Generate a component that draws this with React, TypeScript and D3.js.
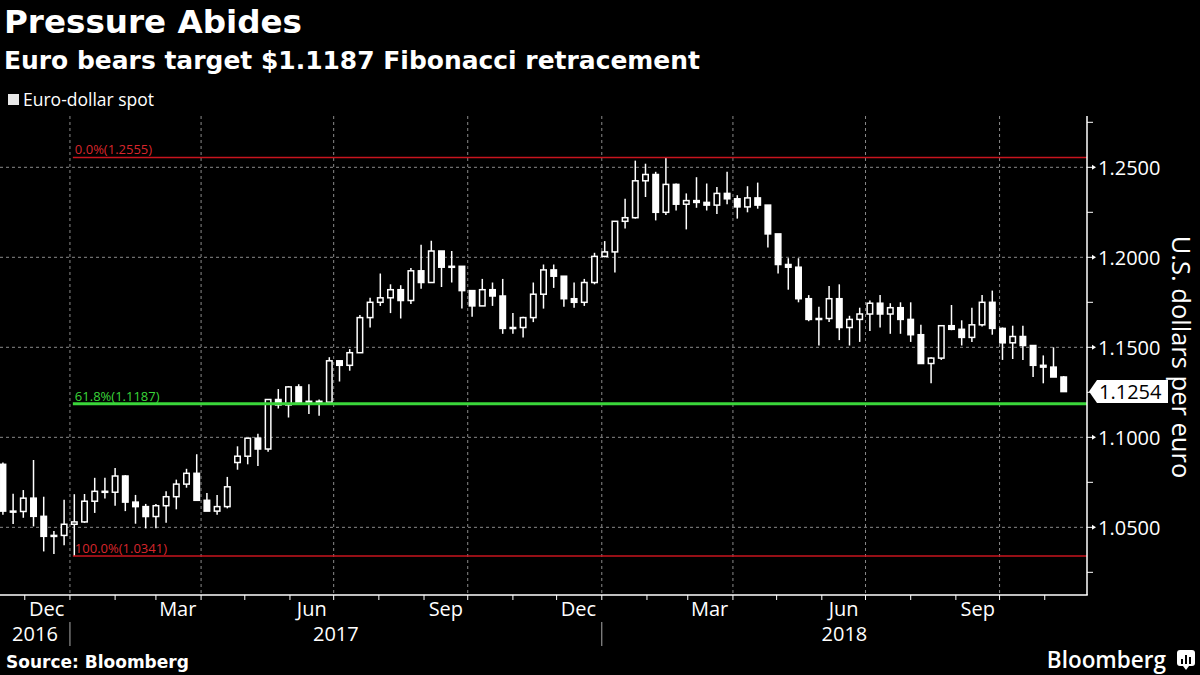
import React, { useEffect } from "react";
import * as d3 from "d3";

// ---- data (weekly OHLC of EUR/USD) ----
const FIRST_WEEK = "2016-11-14";
const opens = [
  1.0850, 1.0590, 1.0588, 1.0662, 1.0561, 1.0450, 1.0455, 1.0517, 1.0530, 1.0645,
  1.0700, 1.0695, 1.0785, 1.0640, 1.0615, 1.0560, 1.0620, 1.0670, 1.0740, 1.0800,
  1.0650, 1.0590, 1.0615, 1.0860, 1.0895, 1.0995, 1.0935, 1.1210, 1.1180, 1.1280,
  1.1195, 1.1200, 1.1195, 1.1425, 1.1400, 1.1470, 1.1665, 1.1750, 1.1775, 1.1820,
  1.1760, 1.1925, 1.1860, 1.2035, 1.1945, 1.1950, 1.1815, 1.1730, 1.1820, 1.1785,
  1.1605, 1.1610, 1.1665, 1.1795, 1.1930, 1.1895, 1.1770, 1.1750, 1.1860, 1.2005,
  1.2030, 1.2200, 1.2220, 1.2425, 1.2460, 1.2250, 1.2405, 1.2295, 1.2315, 1.2305,
  1.2290, 1.2355, 1.2325, 1.2280, 1.2330, 1.2290, 1.2130, 1.1960, 1.1945, 1.1770,
  1.1655, 1.1660, 1.1770, 1.1610, 1.1655, 1.1685, 1.1745, 1.1685, 1.1720, 1.1655,
  1.1570, 1.1410, 1.1440, 1.1620, 1.1600, 1.1555, 1.1625, 1.1750, 1.1605, 1.1525,
  1.1560, 1.1510, 1.1400, 1.1390, 1.1335,
];
const highs = [
  1.0860, 1.0687, 1.0707, 1.0874, 1.0670, 1.0480, 1.0653, 1.0684, 1.0685, 1.0775,
  1.0775, 1.0830, 1.0790, 1.0680, 1.0630, 1.0630, 1.0700, 1.0765, 1.0825, 1.0906,
  1.0690, 1.0680, 1.0780, 1.0950, 1.0995, 1.1020, 1.1210, 1.1268, 1.1285, 1.1295,
  1.1295, 1.1210, 1.1445, 1.1425, 1.1490, 1.1680, 1.1775, 1.1910, 1.1850, 1.1845,
  1.1940, 1.2070, 1.2092, 1.2035, 1.2035, 1.1950, 1.1815, 1.1880, 1.1860, 1.1880,
  1.1690, 1.1670, 1.1860, 1.1960, 1.1960, 1.1895, 1.1860, 1.1880, 1.2025, 1.2090,
  1.2200, 1.2325, 1.2537, 1.2520, 1.2475, 1.2555, 1.2410, 1.2355, 1.2445, 1.2410,
  1.2390, 1.2475, 1.2345, 1.2395, 1.2415, 1.2290, 1.2130, 1.1995, 1.1995, 1.1790,
  1.1725, 1.1840, 1.1850, 1.1675, 1.1720, 1.1760, 1.1790, 1.1745, 1.1750, 1.1750,
  1.1625, 1.1445, 1.1620, 1.1735, 1.1650, 1.1720, 1.1790, 1.1815, 1.1610, 1.1620,
  1.1620, 1.1510, 1.1455, 1.1500, 1.1340,
];
const lows = [
  1.0570, 1.0518, 1.0553, 1.0505, 1.0366, 1.0352, 1.0400, 1.0341, 1.0525, 1.0580,
  1.0660, 1.0620, 1.0590, 1.0520, 1.0494, 1.0495, 1.0525, 1.0600, 1.0720, 1.0650,
  1.0590, 1.0570, 1.0605, 1.0820, 1.0850, 1.0840, 1.0920, 1.1160, 1.1110, 1.1195,
  1.1130, 1.1120, 1.1180, 1.1310, 1.1370, 1.1470, 1.1610, 1.1730, 1.1690, 1.1660,
  1.1740, 1.1825, 1.1860, 1.1835, 1.1860, 1.1715, 1.1670, 1.1730, 1.1730, 1.1575,
  1.1575, 1.1555, 1.1640, 1.1715, 1.1830, 1.1725, 1.1720, 1.1730, 1.1850, 1.2000,
  1.1915, 1.2160, 1.2215, 1.2335, 1.2205, 1.2235, 1.2260, 1.2155, 1.2275, 1.2260,
  1.2240, 1.2295, 1.2215, 1.2250, 1.2270, 1.2055, 1.1910, 1.1820, 1.1750, 1.1645,
  1.1510, 1.1640, 1.1540, 1.1510, 1.1530, 1.1590, 1.1610, 1.1575, 1.1575, 1.1530,
  1.1410, 1.1300, 1.1430, 1.1595, 1.1510, 1.1530, 1.1615, 1.1570, 1.1430, 1.1435,
  1.1430, 1.1335, 1.1300, 1.1335, 1.1254,
];
const closes = [
  1.0590, 1.0588, 1.0662, 1.0561, 1.0450, 1.0455, 1.0517, 1.0530, 1.0645, 1.0700,
  1.0695, 1.0785, 1.0640, 1.0615, 1.0560, 1.0620, 1.0670, 1.0740, 1.0800, 1.0650,
  1.0590, 1.0615, 1.0725, 1.0895, 1.0995, 1.0935, 1.1210, 1.1180, 1.1280, 1.1195,
  1.1200, 1.1195, 1.1425, 1.1400, 1.1470, 1.1665, 1.1750, 1.1775, 1.1820, 1.1760,
  1.1925, 1.1860, 1.2035, 1.1945, 1.1950, 1.1815, 1.1730, 1.1820, 1.1785, 1.1605,
  1.1610, 1.1665, 1.1795, 1.1930, 1.1895, 1.1770, 1.1750, 1.1860, 1.2005, 1.2030,
  1.2200, 1.2220, 1.2425, 1.2460, 1.2250, 1.2405, 1.2295, 1.2315, 1.2305, 1.2290,
  1.2355, 1.2325, 1.2280, 1.2330, 1.2290, 1.2130, 1.1960, 1.1945, 1.1770, 1.1655,
  1.1660, 1.1770, 1.1610, 1.1655, 1.1685, 1.1745, 1.1685, 1.1720, 1.1655, 1.1570,
  1.1410, 1.1440, 1.1620, 1.1600, 1.1555, 1.1625, 1.1750, 1.1605, 1.1525, 1.1560,
  1.1510, 1.1400, 1.1390, 1.1335, 1.1254,
];

const yTickValues = [1.05, 1.1, 1.15, 1.2, 1.25];
const yMinorValues = [1.025, 1.075, 1.125, 1.175, 1.225, 1.275];
const monthLabels = ["Dec", "Mar", "Jun", "Sep", "Dec", "Mar", "Jun", "Sep"];
const monthLabelDates = [
  "2016-12-16", "2017-03-16", "2017-06-16", "2017-09-16",
  "2017-12-16", "2018-03-16", "2018-06-16", "2018-09-16",
];
const yearLabels = ["2016", "2017", "2018"];
const yearStarts = ["2017-01-01", "2018-01-01"];
const fibLabels = ["0.0%(1.2555)", "61.8%(1.1187)", "100.0%(1.0341)"];
const fibValues = [1.2555, 1.1187, 1.0341];
const fibColors = ["#c8141e", "#3ad63a", "#c8141e"];
const fibStart = "2017-01-03";
const lastPrice = 1.1254;

const W = 1200;
const H = 675;
const PL = 0;
const PR = 1087;
const PT = 116;
const PB = 595;

const parse = d3.timeParse("%Y-%m-%d");
const x = d3
  .scaleTime()
  .domain([parse("2016-11-14") as Date, parse("2018-11-30") as Date])
  .range([PL, PR]);
const y = d3.scaleLinear().domain([1.0124, 1.2785]).range([PB, PT]);

const AX_FONT = "'Open Sans', 'Noto Sans', sans-serif";
const BOLD_FONT = "'DejaVu Sans', 'Noto Sans', sans-serif";

export default function App() {
  useEffect(() => {
    document.body.style.margin = "0";
    document.body.style.background = "#000";
  }, []);

  const first = parse(FIRST_WEEK) as Date;
  const candles = closes.map((c, i) => ({
    date: d3.timeDay.offset(first, i * 7 + 2),
    o: opens[i],
    h: highs[i],
    l: lows[i],
    c,
  }));
  const bodyW = 5.5;

  const monthTicks = x.ticks(d3.timeMonth.every(1) as any);
  const quarterTicks = x
    .ticks(d3.timeMonth.every(3) as any)
    .filter((d: Date) => x(d) > PL + 2 && x(d) < PR - 2);
  const yearXs = yearStarts.map((s) => x(parse(s) as Date));
  const yearBounds = [PL, ...yearXs, PR];
  const fibX0 = x(parse(fibStart) as Date);
  const py = y(lastPrice);

  return (
    <svg
      width={W}
      height={H}
      viewBox={`0 0 ${W} ${H}`}
      style={{ display: "block", position: "absolute", left: 0, top: 0, background: "#000" }}
    >
      <rect x={0} y={0} width={W} height={H} fill="#000" />

      {/* titles */}
      <text x={4} y={33} fill="#fff" fontFamily={BOLD_FONT} fontWeight="bold" fontSize={32.5} textLength={298} lengthAdjust="spacingAndGlyphs">
        Pressure Abides
      </text>
      <text x={4} y={69} fill="#fff" fontFamily={BOLD_FONT} fontWeight="bold" fontSize={25} textLength={696} lengthAdjust="spacingAndGlyphs">
        Euro bears target $1.1187 Fibonacci retracement
      </text>

      {/* legend */}
      <rect x={8} y={94} width={11} height={11} fill="#e8e8e8" />
      <text x={23} y={106} fill="#fff" fontFamily={AX_FONT} fontSize={17.5}>
        Euro-dollar spot
      </text>

      {/* grid */}
      <g stroke="#8a8a8a" strokeWidth={1} strokeDasharray="3,3">
        {yTickValues.map((v) => (
          <line key={"hg" + v} x1={PL} x2={PR} y1={y(v)} y2={y(v)} />
        ))}
        {quarterTicks.map((d: Date) => (
          <line key={"vg" + d.getTime()} x1={x(d)} x2={x(d)} y1={PT} y2={PB} />
        ))}
      </g>

      {/* candles */}
      <g>
        {candles.map((k, i) => {
          const cx = x(k.date);
          const up = k.c >= k.o;
          const top = y(Math.max(k.o, k.c));
          const bot = y(Math.min(k.o, k.c));
          return (
            <g key={"c" + i}>
              <line x1={cx} x2={cx} y1={y(k.h)} y2={y(k.l)} stroke="#fff" strokeWidth={1.5} />
              <rect
                x={cx - bodyW / 2}
                y={top}
                width={bodyW}
                height={Math.max(1, bot - top)}
                fill={up ? "#000" : "#fff"}
                stroke="#fff"
                strokeWidth={1.5}
              />
            </g>
          );
        })}
      </g>

      {/* fibonacci levels */}
      {fibValues.map((v, i) => (
        <g key={"fib" + i}>
          <line
            x1={fibX0}
            x2={PR}
            y1={y(v)}
            y2={y(v)}
            stroke={fibColors[i]}
            strokeWidth={i === 1 ? 3 : 1.5}
          />
          <text x={fibX0 + 2} y={y(v) - 3} fill={i === 1 ? "#3ad63a" : "#d8262c"} fontFamily={AX_FONT} fontSize={13}>
            {fibLabels[i]}
          </text>
        </g>
      ))}

      {/* axes lines */}
      <line x1={PL} x2={PR + 0.75} y1={PB} y2={PB} stroke="#fff" strokeWidth={1.5} />
      <line x1={PR} x2={PR} y1={PT} y2={PB} stroke="#fff" strokeWidth={1.5} />

      {/* right axis ticks + labels */}
      {yMinorValues
        .filter((v) => y(v) > PT && y(v) < PB)
        .map((v) => (
          <line key={"ym" + v} x1={PR} x2={PR + 6} y1={y(v)} y2={y(v)} stroke="#fff" strokeWidth={1} />
        ))}
      {yTickValues.map((v) => (
        <g key={"yt" + v}>
          <line x1={PR} x2={PR + 5} y1={y(v)} y2={y(v)} stroke="#fff" strokeWidth={1} />
          <path d={`M${PR + 5},${y(v) - 2.5} L${PR + 9},${y(v)} L${PR + 5},${y(v) + 2.5} Z`} fill="#fff" />
          <text x={PR + 11} y={y(v)} dy="0.36em" fill="#fff" fontFamily={AX_FONT} fontSize={20}>
            {d3.format(".4f")(v)}
          </text>
        </g>
      ))}

      {/* last price tag */}
      <path
        d={`M${PR + 2},${py} L${PR + 10},${py - 11.5} L${PR + 81},${py - 11.5} L${PR + 81},${py + 11.5} L${PR + 10},${py + 11.5} Z`}
        fill="#fff"
      />
      <text x={PR + 12} y={py} dy="0.36em" fill="#000" fontFamily={AX_FONT} fontSize={20}>
        {d3.format(".4f")(lastPrice)}
      </text>

      {/* y axis title */}
      <text
        transform={`translate(1181,357) rotate(90)`}
        textAnchor="middle"
        dy="0.35em"
        fill="#fff"
        fontFamily={AX_FONT}
        fontSize={25.5}
      >
        U.S. dollars per euro
      </text>

      {/* x axis ticks */}
      {monthTicks.map((d: Date) => (
        <line key={"mt" + d.getTime()} x1={x(d)} x2={x(d)} y1={PB} y2={PB + 5} stroke="#fff" strokeWidth={1} />
      ))}
      {monthLabels.map((m, i) => (
        <text
          key={"ml" + i}
          x={x(parse(monthLabelDates[i]) as Date)}
          y={616}
          textAnchor="middle"
          fill="#fff"
          fontFamily={AX_FONT}
          fontSize={20}
        >
          {m}
        </text>
      ))}
      {yearXs.map((xx, i) => (
        <line key={"ys" + i} x1={xx} x2={xx} y1={622} y2={646} stroke="#aaa" strokeWidth={1} />
      ))}
      {yearLabels.map((yl, i) => (
        <text
          key={"yl" + i}
          x={(yearBounds[i] + yearBounds[i + 1]) / 2}
          y={641}
          textAnchor="middle"
          fill="#fff"
          fontFamily={AX_FONT}
          fontSize={20}
        >
          {yl}
        </text>
      ))}

      {/* footer */}
      <text x={6} y={668} fill="#fff" fontFamily={BOLD_FONT} fontWeight="bold" fontSize={17}>
        Source: Bloomberg
      </text>
      <text x={1166} y={668} textAnchor="end" fill="#fff" fontFamily={AX_FONT} fontWeight={600} fontSize={22.5}>
        Bloomberg
      </text>
      <g>
        <rect x={1177} y={650} width={18} height={16} rx={3} fill="#fff" />
        <path d="M1183,666 L1186,670 L1189,666 Z" fill="#fff" />
        <rect x={1181} y={659} width={2} height={5} fill="#000" />
        <rect x={1185} y={655} width={2} height={9} fill="#000" />
        <rect x={1189} y={657} width={2} height={7} fill="#000" />
      </g>
    </svg>
  );
}
